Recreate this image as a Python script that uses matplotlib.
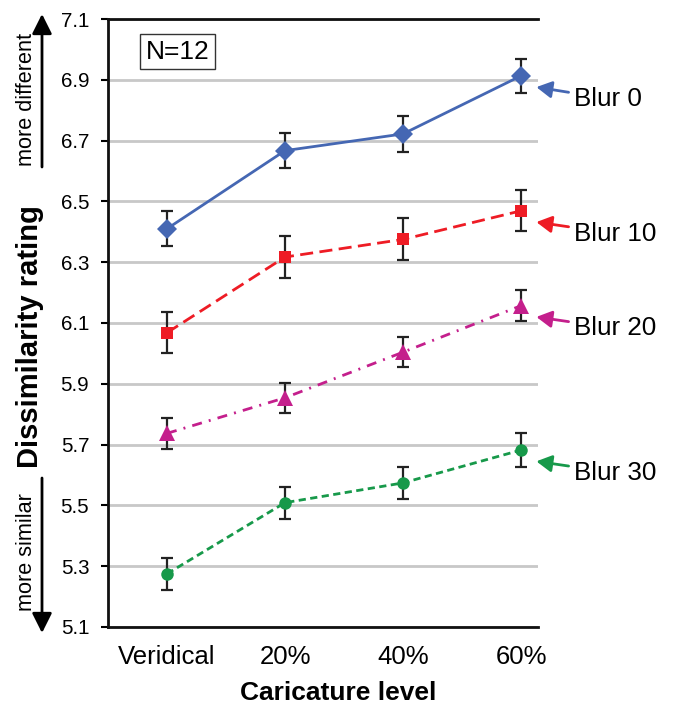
import numpy as np
import matplotlib.pyplot as plt
from matplotlib.patches import FancyArrowPatch

plt.rcParams['font.family'] = ['Liberation Sans', 'DejaVu Sans']

levels = ['Veridical', '20%', '40%', '60%']
blur0 = [6.41, 6.667, 6.722, 6.913]
blur0_err = [0.057, 0.058, 0.058, 0.056]
blur10 = [6.068, 6.317, 6.375, 6.469]
blur10_err = [0.067, 0.068, 0.069, 0.068]
blur20 = [5.737, 5.854, 6.004, 6.157]
blur20_err = [0.051, 0.050, 0.050, 0.050]
blur30 = [5.275, 5.509, 5.574, 5.682]
blur30_err = [0.053, 0.053, 0.053, 0.055]
series_names = ['Blur 0', 'Blur 10', 'Blur 20', 'Blur 30']

W, H = 673, 706
fig = plt.figure(figsize=(W / 100, H / 100), dpi=100)
ax = fig.add_axes([108 / W, 1 - 627 / H, 430 / W, 608 / H])

x = np.arange(len(levels))
styles = [
    (blur0, blur0_err, '#4567b3', 'D', 10.5, '-'),
    (blur10, blur10_err, '#ee1c25', 's', 9, (0, (4.7, 2.3))),
    (blur20, blur20_err, '#c41f8c', '^', 11, (0, (3.6, 2.6, 0.7, 2.6))),
    (blur30, blur30_err, '#17994a', 'o', 9, (0, (2.6, 1.6))),
]
for vals, err, col, mk, ms, ls in styles:
    ax.errorbar(x, vals, yerr=err, fmt='none', ecolor='#222222',
                elinewidth=1.6, capsize=4.5, capthick=1.6, zorder=2)
    ax.plot(x, vals, color=col, linestyle=ls, linewidth=2, zorder=3)
    ax.plot(x, vals, color=col, marker=mk, markersize=ms, linestyle='none',
            markeredgewidth=0, zorder=4)

# arrows to the series labels
for (vals, err, col, mk, ms, ls), name in zip(styles, series_names):
    yv = vals[-1]
    ax.annotate(name, xy=(3.13, yv - 0.037), xytext=(3.45, yv - 0.075),
                fontsize=18.7, va='center', ha='left', color='black',
                annotation_clip=False,
                arrowprops=dict(arrowstyle='-|>,head_length=0.4,head_width=0.22',
                                color=col, lw=2, mutation_scale=23,
                                shrinkA=2, shrinkB=0))

ax.set_xlim(-0.5, 3.144)
ax.set_ylim(5.1, 7.1)
yt = np.arange(5.1, 7.11, 0.2)
ax.set_yticks(yt)
ax.set_yticklabels([f'{v:.1f}' for v in yt])
ax.set_xticks(x)
ax.set_xticklabels(levels)
ax.tick_params(axis='x', length=0, labelsize=18.5, pad=13)
ax.tick_params(axis='y', length=5, width=1.5, labelsize=14.8, pad=8.5, direction='out')
ax.grid(axis='y', color='#c8c8c8', linewidth=2)
ax.set_axisbelow(True)
for s in ['left', 'bottom', 'top']:
    ax.spines[s].set_linewidth(2)
    ax.spines[s].set_color('#111111')
ax.spines['right'].set_visible(False)

ax.text(0.088, 0.9465, 'N=12', transform=ax.transAxes, fontsize=19, va='center',
        ha='left', bbox=dict(boxstyle='square,pad=0.22', fc='white', ec='#333333', lw=1))

fig.text(338 / W, 1 - 693 / H, 'Caricature level', fontsize=19, fontweight='bold',
         ha='center', va='center')
fig.text(30 / W, 1 - 337 / H, 'Dissimilarity rating', fontsize=21, fontweight='bold',
         rotation=90, ha='center', va='center')

# direction hints on the left
fig.text(27 / W, 1 - 100 / H, 'more different', fontsize=15.6, rotation=90,
         ha='center', va='center')
fig.text(27 / W, 1 - 552 / H, 'more similar', fontsize=15.6, rotation=90,
         ha='center', va='center')
for y0, y1 in [(167, 14), (478, 633)]:
    fig.patches.append(FancyArrowPatch(
        (42 / W, 1 - y0 / H), (42 / W, 1 - y1 / H), transform=fig.transFigure,
        arrowstyle='-|>,head_length=0.4,head_width=0.2', mutation_scale=30,
        lw=2, color='black', shrinkA=0, shrinkB=0))

fig.savefig('out.png', dpi=100)
